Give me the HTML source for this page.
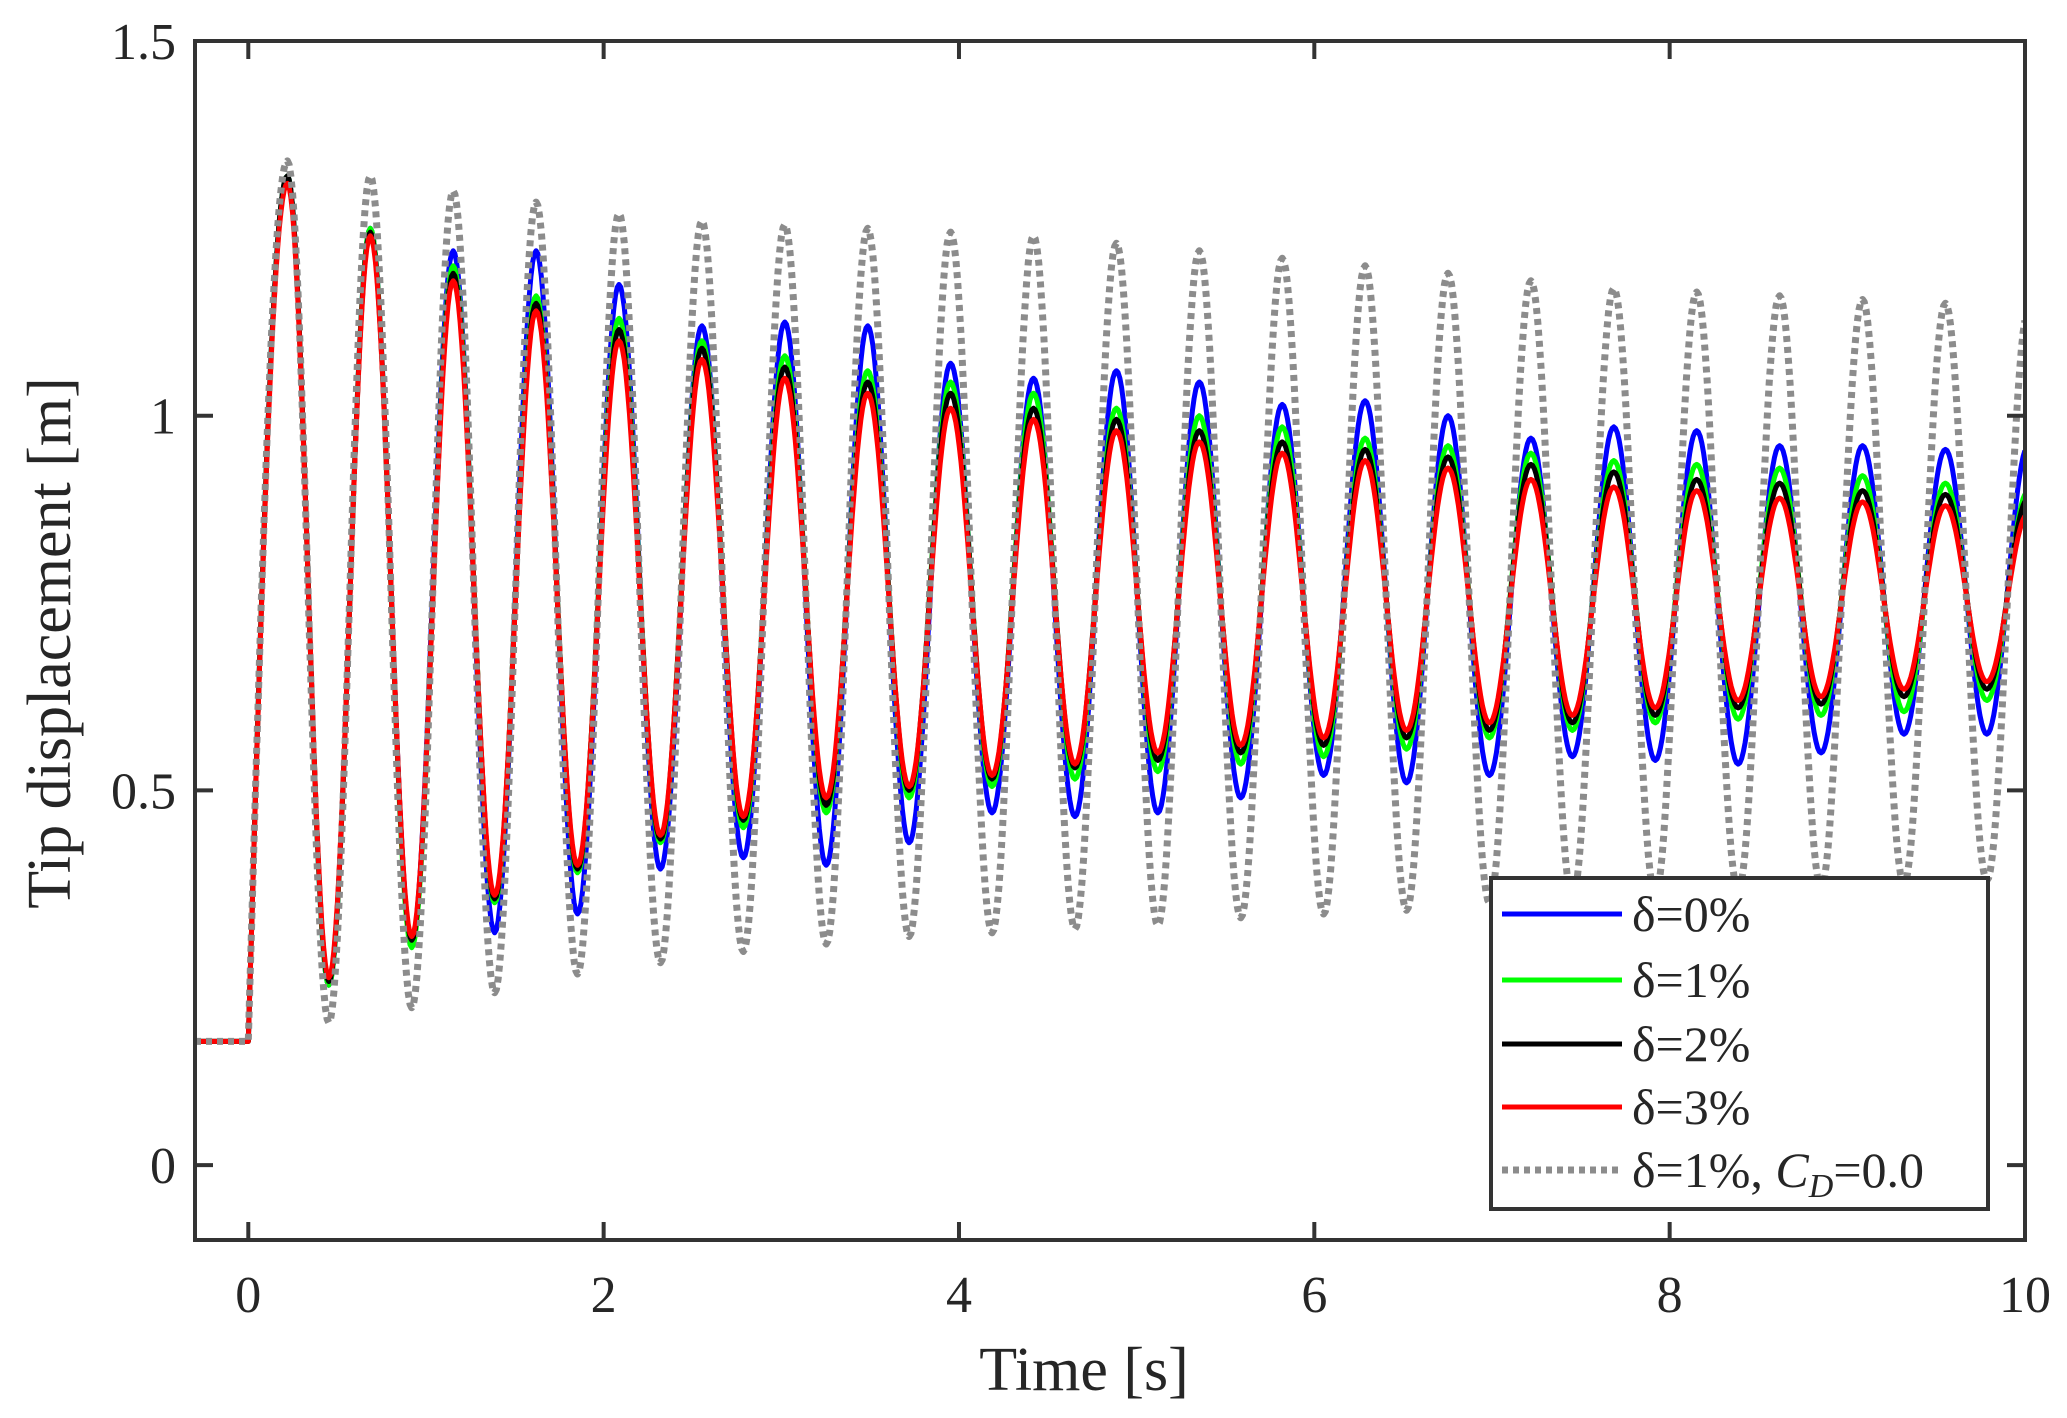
<!DOCTYPE html>
<html><head><meta charset="utf-8"><style>
html,body{margin:0;padding:0;background:#fff}
svg{display:block}
text{font-family:"Liberation Serif",serif;fill:#262626}
</style></head><body>
<svg id="chart" width="2067" height="1418" viewBox="0 0 2067 1418" xmlns="http://www.w3.org/2000/svg">
<rect width="2067" height="1418" fill="#fff"/>
<g id="series"></g>
<g id="axes"></g>
<g id="legend"></g>
</svg>
<script>
const xTicks=[0,2,4,6,8,10];
const yTicks=[0,0.5,1,1.5];
const yTickLabels=["0","0.5","1","1.5"];
const seriesNames=["δ=0%","δ=1%","δ=2%","δ=3%","δ=1%, C_D=0.0"];
const startValue=0.165;
const firstPeakTime=0.22;
const halfPeriod=0.2333;
const bluePeaks=[1.32,1.25,1.22,1.22,1.175,1.12,1.125,1.12,1.07,1.05,1.06,1.045,1.015,1.02,1.0,0.97,0.985,0.98,0.96,0.96,0.955,0.96];
const blueTroughs=[0.24,0.30,0.31,0.335,0.395,0.41,0.40,0.43,0.47,0.465,0.47,0.49,0.52,0.51,0.52,0.545,0.54,0.535,0.55,0.575,0.575];
const greenPeaks=[1.32,1.25,1.20,1.16,1.13,1.10,1.08,1.06,1.045,1.03,1.01,1.0,0.985,0.97,0.96,0.95,0.94,0.935,0.93,0.92,0.91,0.90];
const greenTroughs=[0.24,0.29,0.35,0.39,0.43,0.45,0.47,0.49,0.505,0.515,0.525,0.535,0.545,0.555,0.57,0.58,0.59,0.595,0.60,0.605,0.62];
const blackPeaks=[1.32,1.245,1.19,1.15,1.115,1.09,1.065,1.045,1.03,1.01,0.995,0.98,0.965,0.955,0.945,0.935,0.925,0.915,0.91,0.90,0.895,0.89];
const blackTroughs=[0.245,0.30,0.355,0.395,0.435,0.46,0.48,0.50,0.515,0.53,0.54,0.55,0.56,0.57,0.58,0.59,0.60,0.61,0.615,0.625,0.635];
const redPeaks=[1.31,1.24,1.18,1.14,1.10,1.075,1.05,1.03,1.01,0.995,0.98,0.965,0.95,0.94,0.93,0.915,0.905,0.90,0.89,0.885,0.88,0.87];
const redTroughs=[0.25,0.305,0.36,0.40,0.44,0.465,0.49,0.505,0.52,0.535,0.55,0.56,0.57,0.58,0.59,0.60,0.61,0.62,0.625,0.635,0.645];
const grayPeaks=[1.34,1.32,1.30,1.285,1.27,1.26,1.255,1.25,1.245,1.24,1.23,1.22,1.21,1.20,1.19,1.18,1.17,1.165,1.16,1.155,1.15,1.14];
const grayTroughs=[0.19,0.21,0.23,0.255,0.27,0.285,0.295,0.305,0.31,0.315,0.32,0.33,0.335,0.34,0.35,0.355,0.36,0.365,0.37,0.375,0.38];

const NS="http://www.w3.org/2000/svg";
const L=195,R=2025,T=41,B=1240;
const xMin=-0.3,xMax=10,yMin=-0.1,yMax=1.5;
const X=v=>L+(v-xMin)/(xMax-xMin)*(R-L);
const Y=v=>B-(v-yMin)/(yMax-yMin)*(B-T);
function el(tag,attrs,parent){const e=document.createElementNS(NS,tag);for(const k in attrs)e.setAttribute(k,attrs[k]);parent.appendChild(e);return e;}

function buildPath(peaks,troughs){
  const ext=[[xMin,startValue],[0,startValue]];
  for(let i=0;i<peaks.length;i++){
    ext.push([firstPeakTime+2*i*halfPeriod,peaks[i]]);
    if(i<troughs.length)ext.push([firstPeakTime+(2*i+1)*halfPeriod,troughs[i]]);
  }
  let d="M"+X(ext[0][0]).toFixed(1)+","+Y(ext[0][1]).toFixed(1)+" L"+X(0).toFixed(1)+","+Y(startValue).toFixed(1);
  for(let i=2;i<ext.length;i++){
    const [t0,v0]=ext[i-1],[t1,v1]=ext[i];
    const n=24;
    for(let k=1;k<=n;k++){
      const s=k/n;
      const t=t0+(t1-t0)*s;
      if(t>xMax)break;
      const v=(i===2)?v0+(v1-v0)*Math.sin(s*Math.PI/2):v0+(v1-v0)*(1-Math.cos(Math.PI*s))/2;
      d+=" L"+X(t).toFixed(1)+","+Y(v).toFixed(1);
    }
  }
  return d;
}
const sg=document.getElementById('series');
const defs=el('defs',{},document.getElementById('chart'));
const cp=el('clipPath',{id:'clip'},defs);
el('rect',{x:L,y:T,width:R-L,height:B-T},cp);
sg.setAttribute('clip-path','url(#clip)');
const specs=[
 [bluePeaks,blueTroughs,'#0000ff','none',5,'series-delta-0'],
 [greenPeaks,greenTroughs,'#00ff00','none',5,'series-delta-1'],
 [blackPeaks,blackTroughs,'#000000','none',5,'series-delta-2'],
 [redPeaks,redTroughs,'#ff0000','none',5,'series-delta-3'],
 [grayPeaks,grayTroughs,'#8c8c8c','6 5',7,'series-delta-1-cd-0']
];
specs.forEach(s=>{
  const p=el('path',{d:buildPath(s[0],s[1]),fill:'none',stroke:s[2],'stroke-width':s[4],'stroke-dasharray':s[3],'stroke-linejoin':'round'},sg);
  
  
});

const ax=document.getElementById('axes');
const frame=el('rect',{x:L,y:T,width:R-L,height:B-T,fill:'none',stroke:'#333','stroke-width':4},ax);


xTicks.forEach(v=>{
  const x=X(v);
  el('line',{x1:x,y1:B,x2:x,y2:B-18,stroke:'#333','stroke-width':4},ax);
  el('line',{x1:x,y1:T,x2:x,y2:T+18,stroke:'#333','stroke-width':4},ax);
  const t=el('text',{x:x,y:1312,'font-size':52,'text-anchor':'middle'},ax);
  t.textContent=String(v);
  
  
});
yTicks.forEach((v,i)=>{
  const y=Y(v);
  el('line',{x1:L,y1:y,x2:L+18,y2:y,stroke:'#333','stroke-width':4},ax);
  el('line',{x1:R,y1:y,x2:R-18,y2:y,stroke:'#333','stroke-width':4},ax);
  const t=el('text',{x:176,y:y+18,'font-size':52,'text-anchor':'end'},ax);
  t.textContent=yTickLabels[i];
  
  
});
const xl=el('text',{x:1084,y:1390,'font-size':62,'text-anchor':'middle'},ax);
xl.textContent="Time [s]";


const yl=el('text',{x:0,y:0,'font-size':62,'text-anchor':'middle',transform:'translate(70,643) rotate(-90)'},ax);
yl.textContent="Tip displacement [m]";



const lg=document.getElementById('legend');
const box=el('rect',{x:1491,y:878,width:497,height:331,fill:'#fff',stroke:'#333','stroke-width':4},lg);


const rowsY=[914,980,1044,1107,1170];
specs.forEach((s,i)=>{
  const y=rowsY[i];
  el('line',{x1:1502,y1:y,x2:1622,y2:y,stroke:s[2],'stroke-width':s[4],'stroke-dasharray':s[3]},lg);
  const t=el('text',{x:1632,y:y+17,'font-size':50},lg);
  
  
  if(i<4){t.textContent=seriesNames[i];}
  else{
    t.textContent="δ=1%, ";
    const c=el('tspan',{'font-style':'italic'},t);c.textContent="C";
    const d=el('tspan',{'font-style':'italic','font-size':34,dy:10},t);d.textContent="D";
    const e=el('tspan',{dy:-10},t);e.textContent="=0.0";
  }
});
</script>
</body></html>
